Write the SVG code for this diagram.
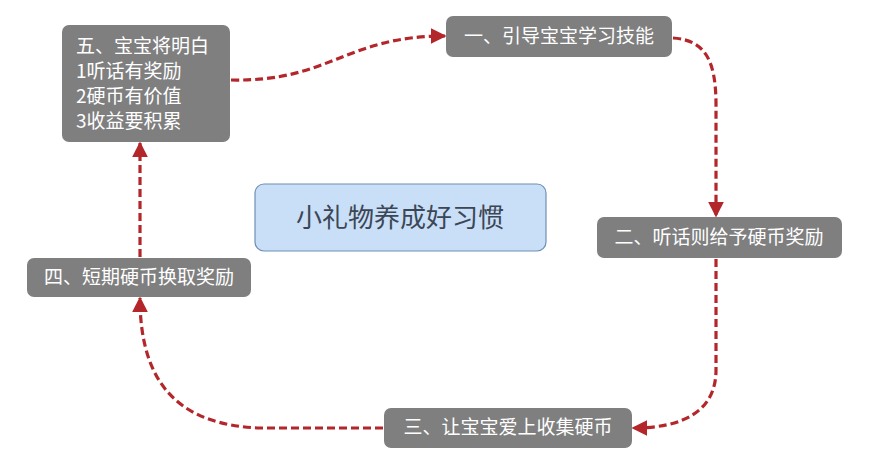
<svg xmlns="http://www.w3.org/2000/svg" width="871" height="466" viewBox="0 0 871 466">
<style>
.node rect{fill:#7f7f7f;}
.node text{fill:#ffffff;font-family:"Noto Sans CJK SC","Liberation Sans",sans-serif;font-size:19px;}
.center rect{fill:#c9dff8;stroke:#6f8fb5;stroke-width:1.2;}
.center text{fill:#3c4655;font-family:"Noto Sans CJK SC",sans-serif;font-size:26px;}
.conn path{fill:none;stroke:#b3262a;stroke-width:3.2;stroke-dasharray:8 4;}
</style>
<defs>
<marker id="arr" viewBox="0 0 10 10" refX="9" refY="5" markerWidth="5" markerHeight="5" orient="auto" markerUnits="strokeWidth">
<path d="M0,0 L10,5 L0,10 z" fill="#b3262a"/>
</marker>
</defs>
<rect width="871" height="466" fill="#ffffff"/>
<g class="conn">
<path d="M231,80 C330,82 345,36 445,36" marker-end="url(#arr)"/>
<path d="M673,38 C705,40 716,60 716,105 L716,216" marker-end="url(#arr)"/>
<path d="M716,259 L716,370 C716,410 685,428 633,428" marker-end="url(#arr)"/>
<path d="M383,428 L260,428 C180,425 140,385 140,298" marker-end="url(#arr)"/>
<path d="M140,257 L140,143" marker-end="url(#arr)"/>
</g>
<g id="node5" class="node">
<rect x="62" y="25" width="168" height="117" rx="7"/>
<text x="76" y="53">五、宝宝将明白</text>
<text x="76" y="78">1听话有奖励</text>
<text x="76" y="103">2硬币有价值</text>
<text x="76" y="128">3收益要积累</text>
</g>
<g id="node1" class="node">
<rect x="446" y="16" width="226" height="41" rx="7"/>
<text x="559" y="43" text-anchor="middle">一、引导宝宝学习技能</text>
</g>
<g id="node2" class="node">
<rect x="597" y="217" width="245" height="41" rx="7"/>
<text x="719" y="244" text-anchor="middle">二、听话则给予硬币奖励</text>
</g>
<g id="center" class="center">
<rect x="255" y="184" width="291" height="67" rx="9"/>
<text x="400" y="227" text-anchor="middle">小礼物养成好习惯</text>
</g>
<g id="node4" class="node">
<rect x="27" y="258" width="224" height="39" rx="7"/>
<text x="139" y="284" text-anchor="middle">四、短期硬币换取奖励</text>
</g>
<g id="node3" class="node">
<rect x="384" y="408" width="248" height="40" rx="7"/>
<text x="508" y="434" text-anchor="middle">三、让宝宝爱上收集硬币</text>
</g>
</svg>
